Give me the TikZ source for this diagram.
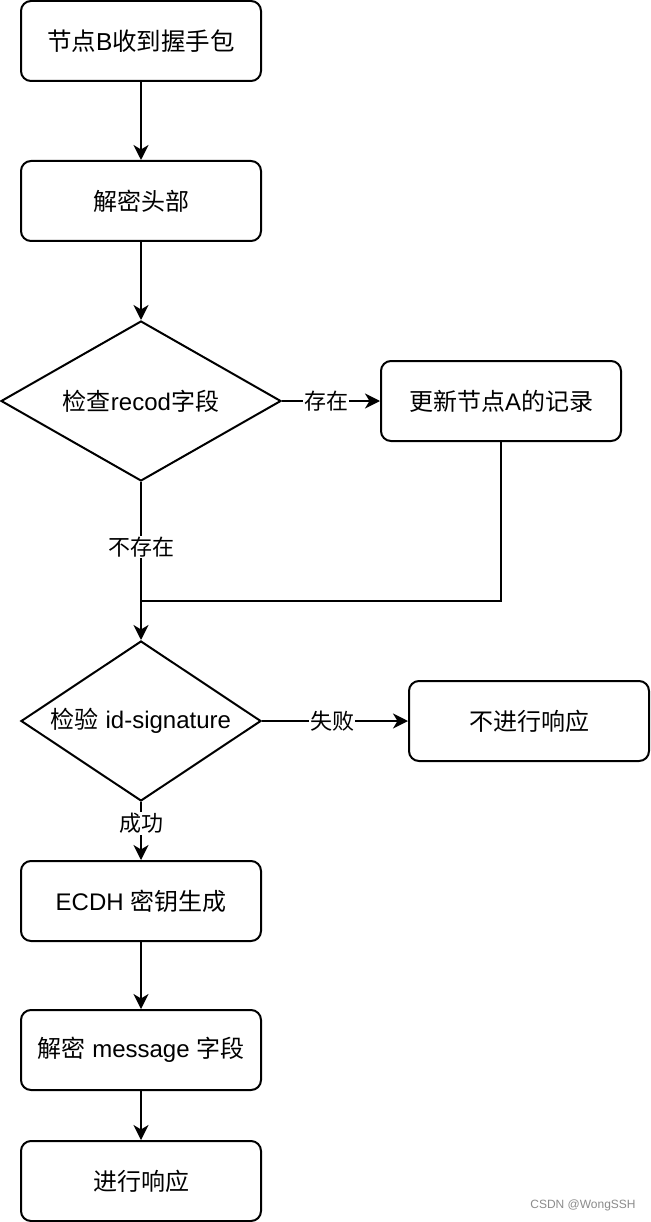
\documentclass[tikz,border=0pt]{standalone}
\usepackage{fontspec}
\setmainfont{Liberation Sans}
\newfontfamily\cjk{Noto Sans CJK SC}
\usetikzlibrary{shapes.geometric,arrows.meta}
\begin{document}
\begin{tikzpicture}[x=1pt,y=-1pt,
  every node/.style={font=\fontsize{24}{28}\selectfont},
  box/.style={draw,line width=2pt,rounded corners=10pt,minimum width=240pt,minimum height=80pt,inner sep=0pt,align=center},
  dia/.style={draw,line width=2pt,diamond,inner sep=0pt},
  conn/.style={line width=2pt,-{Stealth[length=15pt,width=15pt,inset=4.5pt]}},
  plain/.style={line width=2pt},
  lbl/.style={fill=white,inner sep=1pt,font=\fontsize{22}{26}\selectfont}]
\useasboundingbox (0,0) rectangle (650,1222);
\fill[white] (0,0) rectangle (650,1222);
\node[box,font=\fontsize{24.5}{29}\selectfont] (b1) at (141,41) {{\cjk 节点}B{\cjk 收到握手包}};
\node[box] (b2) at (141,201) {{\cjk 解密头部}};
\node[dia,minimum width=280pt,minimum height=160pt,aspect=1.75] (d1) at (141,401) {{\cjk 检查}recod{\cjk 字段}};
\node[box] (ua) at (501,401) {{\cjk 更新节点}A{\cjk 的记录}};
\node[dia,minimum width=240pt,minimum height=160pt,aspect=1.5] (d2) at (141,721) {{\cjk 检验} id-signature};
\node[box] (nr) at (529,721) {{\cjk 不进行响应}};
\node[box] (ec) at (141,901) {ECDH {\cjk 密钥生成}};
\node[box] (ms) at (141,1050) {{\cjk 解密} message {\cjk 字段}};
\node[box] (rs) at (141,1181) {{\cjk 进行响应}};
\coordinate (j) at (141,601);
\node[font=\fontsize{12}{14}\selectfont,text=black!45] (wm) at (583,1205) {CSDN @WongSSH};
\draw[conn] (b1) -- (b2);
\draw[conn] (b2) -- (d1);
\draw[conn] (d1) -- node[lbl,pos=0.45] {{\cjk 存在}} (ua);
\draw[conn] (d1) -- node[lbl,pos=0.41] {{\cjk 不存在}} (d2);
\draw[plain] (ua.south) |- (j);
\draw[conn] (d2) -- node[lbl,pos=0.48] {{\cjk 失败}} (nr);
\draw[conn] (d2) -- node[lbl,pos=0.37] {{\cjk 成功}} (ec);
\draw[conn] (ec) -- (ms);
\draw[conn] (ms) -- (rs);
\end{tikzpicture}
\end{document}
